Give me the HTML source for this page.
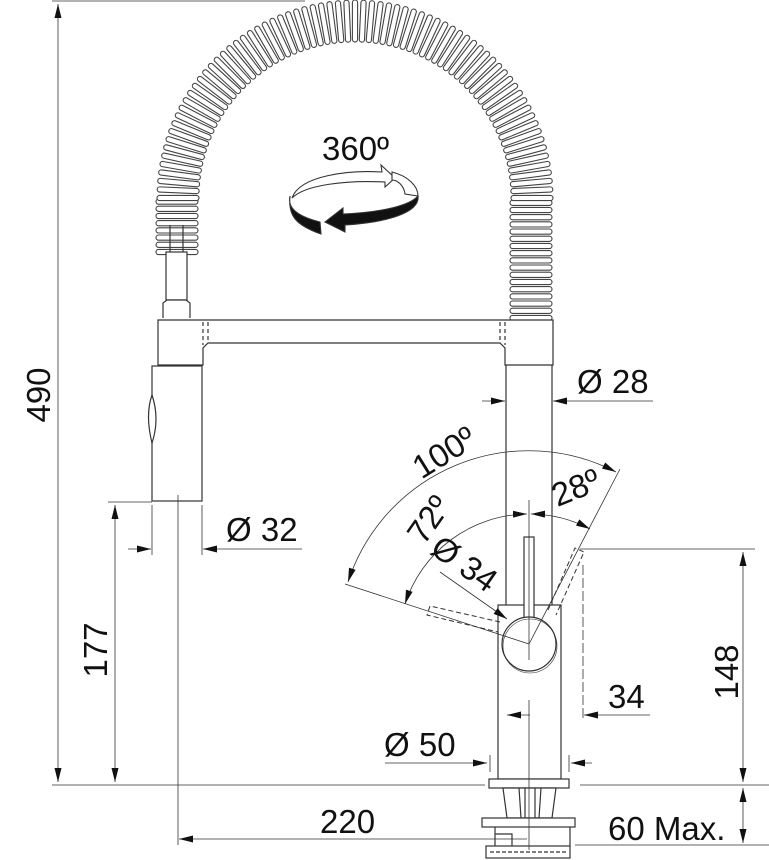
<!DOCTYPE html>
<html><head><meta charset="utf-8"><style>
html,body{margin:0;padding:0;background:#fff;width:769px;height:860px;overflow:hidden}
svg{display:block}
text{font-family:"Liberation Sans",sans-serif;fill:#111}
</style></head><body>
<svg id="s" width="769" height="860" viewBox="0 0 769 860" xmlns="http://www.w3.org/2000/svg">
<defs>
<marker id="a" viewBox="0 0 14 7" refX="14" refY="3.5" markerWidth="14" markerHeight="7" orient="auto-start-reverse" markerUnits="userSpaceOnUse"><path d="M0,0L14,3.5L0,7z" fill="#111"/></marker>
</defs>
<g id="coil" fill="#fff" stroke="#444" stroke-width="1.1"></g>
<g fill="none" stroke="#333" stroke-width="1.2">
<rect x="166" y="252" width="21" height="48" fill="#fff"/>
<line x1="170" y1="225" x2="170" y2="252"/><line x1="183" y1="225" x2="183" y2="252"/>
<path d="M163,318 L163,303 L167,300 L186,300 L190,303 L190,318" fill="#fff"/>
<path d="M158,320 L553,320 L553,365 L505,365 L505,348 L500,343 L208,343 L203,348 L203,365 L158,365 Z" fill="#fff"/>
<line x1="203" y1="322" x2="203" y2="345" stroke-dasharray="4,3"/>
<line x1="208" y1="322" x2="208" y2="343" stroke-dasharray="4,3"/>
<line x1="500" y1="322" x2="500" y2="343" stroke-dasharray="4,3"/>
<line x1="505" y1="322" x2="505" y2="345" stroke-dasharray="4,3"/>
<rect x="152" y="366" width="50" height="135" fill="#fff"/>
<path d="M152,395 q-7,20 0,48 q8,-24 0,-48z" fill="#fff"/>
<line x1="506" y1="365" x2="506" y2="605"/><line x1="552" y1="365" x2="552" y2="605"/>
<rect x="498" y="605" width="63" height="174" fill="#fff"/>
<rect x="524" y="537" width="10" height="82" fill="#fff"/>
<circle cx="529" cy="644" r="27" fill="#fff"/>
<circle cx="530" cy="646" r="27" stroke-width="0.6"/>
<g stroke-dasharray="5,3" stroke-width="1">
<path d="M500,622 L430,606 L427,615 L498,632"/>
<path d="M548,610 L575,548 L584,552 L556,615"/>
</g>
<rect x="489" y="779" width="80" height="9" fill="#fff"/>
<path d="M503,788 L556,788 L552,818 L507,818Z" fill="#fff"/>
<line x1="519" y1="788" x2="521" y2="818"/><line x1="525" y1="788" x2="525" y2="818"/><line x1="535" y1="788" x2="535" y2="818"/><line x1="541" y1="788" x2="539" y2="818"/>
<rect x="482" y="818" width="93" height="9" fill="#fff"/>
<path d="M495,827 L495,846 M570,827 L570,846 M495,834 L512,834 L512,846"/>
<rect x="486" y="846" width="84" height="12" fill="#fff"/>
<line x1="490" y1="852" x2="566" y2="852" stroke-dasharray="4,2"/>
</g>
<g stroke="#333" stroke-width="0.8" fill="none">
<line x1="178" y1="495" x2="178" y2="845"/>
<line x1="529" y1="500" x2="529" y2="660"/>
<line x1="529" y1="700" x2="529" y2="850"/>
<line x1="52" y1="1" x2="305" y2="1"/>
<line x1="52" y1="785" x2="485" y2="785"/><line x1="580" y1="785" x2="769" y2="785"/>
<line x1="108" y1="502" x2="152" y2="502"/>
<line x1="152" y1="505" x2="152" y2="555"/><line x1="202" y1="505" x2="202" y2="555"/>
<line x1="580" y1="549" x2="755" y2="549"/>
<line x1="583" y1="565" x2="583" y2="720" stroke-dasharray="10,3"/>
<line x1="575" y1="845" x2="769" y2="845"/>
<line x1="58" y1="4" x2="58" y2="782" marker-start="url(#a)" marker-end="url(#a)"/>
<line x1="115" y1="505" x2="115" y2="782" marker-start="url(#a)" marker-end="url(#a)"/>
<line x1="128" y1="549" x2="151" y2="549" marker-end="url(#a)"/>
<line x1="302" y1="549" x2="203" y2="549" marker-end="url(#a)"/>
<line x1="527" y1="839" x2="179" y2="839" marker-end="url(#a)"/>
<line x1="482" y1="401" x2="505" y2="401" marker-end="url(#a)"/>
<line x1="653" y1="401" x2="553" y2="401" marker-end="url(#a)"/>
<line x1="743" y1="552" x2="743" y2="782" marker-start="url(#a)" marker-end="url(#a)"/>
<line x1="743" y1="788" x2="743" y2="843" marker-start="url(#a)" marker-end="url(#a)"/>
<line x1="530" y1="715" x2="507" y2="715" marker-end="url(#a)"/>
<line x1="650" y1="715" x2="584" y2="715" marker-end="url(#a)"/>
<line x1="385" y1="763" x2="487" y2="763" marker-end="url(#a)"/>
<line x1="592" y1="763" x2="571" y2="763" marker-end="url(#a)"/>
<line x1="490" y1="755" x2="490" y2="772"/><line x1="569" y1="755" x2="569" y2="772"/>
<line x1="529" y1="644" x2="345" y2="584"/>
<line x1="529" y1="644" x2="620" y2="469"/>
<path d="M348,582 A190,190 0 0 1 616,472" marker-start="url(#a)" marker-end="url(#a)"/>
<path d="M405,604 A130,130 0 0 1 527,514" marker-start="url(#a)" marker-end="url(#a)"/>
<path d="M531,514 A130,130 0 0 1 590,529" marker-start="url(#a)" marker-end="url(#a)"/>
<line x1="440" y1="572" x2="507" y2="619" marker-end="url(#a)"/>
</g>
<g stroke="#333" stroke-width="1.1">
<path d="M292,198 C300,175 350,170 382,172 L381,165 L395,178 L385,187 L385,182 C345,180 305,185 292,198Z" fill="#fff"/>
<path d="M392,172 C408,176 418,186 418,196 L405,194 C404,186 398,180 392,180Z" fill="#fff"/>
<path d="M290,196 C288,205 292,215 320,222 L321,234 C295,225 288,215 290,196Z" fill="#111"/>
<path d="M418,196 C420,212 390,222 345,225 L345,232 L325,222 L343,208 L343,214 C385,212 410,205 418,196Z" fill="#111"/>
</g>
<g font-size="33">
<text x="322" y="160">360º</text>
<text x="226" y="541">Ø 32</text>
<text x="577" y="393">Ø 28</text>
<text x="608" y="708">34</text>
<text x="384" y="756">Ø 50</text>
<text x="320" y="833">220</text>
<text x="608" y="840">60 Max.</text>
<text transform="translate(50,395) rotate(-90)" text-anchor="middle">490</text>
<text transform="translate(107,650) rotate(-90)" text-anchor="middle">177</text>
<text transform="translate(738,672) rotate(-90)" text-anchor="middle">148</text>
<text transform="translate(450,462) rotate(-32)" text-anchor="middle">100º</text>
<text transform="translate(438,526) rotate(-55)" text-anchor="middle">72º</text>
<text transform="translate(580,498) rotate(-22)" text-anchor="middle">28º</text>
<text transform="translate(458,573) rotate(35)" text-anchor="middle">Ø 34</text>
</g>
</svg>
<script>
var g=document.getElementById('coil'),ns='http://www.w3.org/2000/svg';
function ring(cx,cy,ang){var r=document.createElementNS(ns,'rect');r.setAttribute('x',-21);r.setAttribute('y',-2.6);r.setAttribute('width',42);r.setAttribute('height',5.2);r.setAttribute('rx',2.6);r.setAttribute('transform','translate('+cx+','+cy+') rotate('+ang+')');g.appendChild(r);}
var cx=355,cy=198,R=177;
for(var y=252;y>cy+3;y-=7.2)ring(177,y,0);
for(var y=318;y>cy+3;y-=7.2)ring(531,y,0);
var n=72;for(var i=0;i<=n;i++){var t=Math.PI*(1-i/n);ring(cx+R*Math.cos(t),cy-R*Math.sin(t),-t*180/Math.PI);}
</script>
</body></html>
